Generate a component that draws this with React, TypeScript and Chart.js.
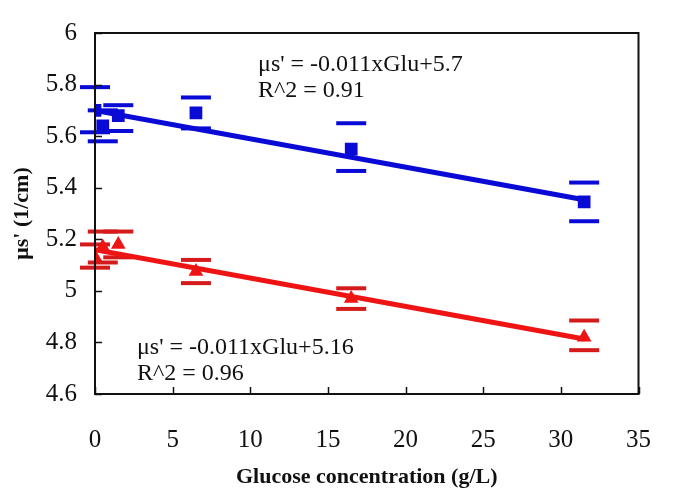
import React, { useEffect, useRef } from 'react';
import { Chart, registerables } from 'chart.js';

Chart.register(...registerables);

// ---- data ----
const glucose = [0, 0.5, 1.5, 6.5, 16.5, 31.5];

const blueMean = [5.7, 5.64, 5.68, 5.69, 5.55, 5.345];
const blueHigh = [5.79, 5.7, 5.72, 5.75, 5.65, 5.42];
const blueLow = [5.615, 5.58, 5.62, 5.63, 5.465, 5.27];

const redMean = [5.13, 5.17, 5.18, 5.075, 4.97, 4.82];
const redHigh = [5.18, 5.23, 5.23, 5.12, 5.01, 4.885];
const redLow = [5.09, 5.11, 5.13, 5.03, 4.93, 4.77];

const fitX = [0, 31.5];
const blueFit = [5.7, 5.3535];
const redFit = [5.16, 4.8135];

const xTicks = [0, 5, 10, 15, 20, 25, 30, 35];
const xTickLabels = ['0', '5', '10', '15', '20', '25', '30', '35'];
const yTicks = [4.6, 4.8, 5, 5.2, 5.4, 5.6, 5.8, 6];
const yTickLabels = ['4.6', '4.8', '5', '5.2', '5.4', '5.6', '5.8', '6'];

const blueEq = ["μs' = -0.011xGlu+5.7", 'R^2 = 0.91'];
const redEq = ["μs' = -0.011xGlu+5.16", 'R^2 = 0.96'];

const xTitle = 'Glucose concentration (g/L)';
const yTitle = "μs' (1/cm)";

const BLUE = '#0a0ad6';
const RED = '#ee1414';
const RED_CAP = '#d41a1a';
const SERIF = '"Liberation Serif", "Times New Roman", serif';

const decor = {
  id: 'decor',
  beforeDatasetsDraw(chart: any) {
    const { ctx, scales } = chart;
    const xs = scales.x;
    const ys = scales.y;
    const caps = (low: number[], high: number[], color: string) => {
      ctx.save();
      ctx.strokeStyle = color;
      ctx.lineWidth = 4;
      glucose.forEach((g, i) => {
        const px = xs.getPixelForValue(g);
        [low[i], high[i]].forEach((v) => {
          const py = ys.getPixelForValue(v);
          ctx.beginPath();
          ctx.moveTo(px - 15, py);
          ctx.lineTo(px + 15, py);
          ctx.stroke();
        });
      });
      ctx.restore();
    };
    caps(blueLow, blueHigh, BLUE);
    caps(redLow, redHigh, RED_CAP);
  },
  afterDraw(chart: any) {
    const { ctx, chartArea, scales } = chart;
    const { left, top, right, bottom } = chartArea;
    const xs = scales.x;
    const ys = scales.y;
    ctx.save();
    ctx.strokeStyle = '#111';
    ctx.lineWidth = 2;
    ctx.strokeRect(left, top, right - left, bottom - top);
    ctx.lineWidth = 1.5;
    xTicks.forEach((v) => {
      const px = Math.round(xs.getPixelForValue(v)) + 0.5;
      ctx.beginPath();
      ctx.moveTo(px, bottom);
      ctx.lineTo(px, bottom - 7);
      ctx.stroke();
    });
    yTicks.forEach((v) => {
      const py = Math.round(ys.getPixelForValue(v)) + 0.5;
      ctx.beginPath();
      ctx.moveTo(left, py);
      ctx.lineTo(left + 7, py);
      ctx.stroke();
    });
    ctx.fillStyle = '#111';
    ctx.font = `24px ${SERIF}`;
    ctx.textAlign = 'left';
    ctx.textBaseline = 'middle';
    const bx = xs.getPixelForValue(10.5);
    const by = ys.getPixelForValue(5.877);
    blueEq.forEach((t, i) => ctx.fillText(t, bx, by + i * 26));
    const rx = xs.getPixelForValue(2.7);
    const ry = ys.getPixelForValue(4.78);
    redEq.forEach((t, i) => ctx.fillText(t, rx, ry + i * 26));
    ctx.restore();
  },
};

export default function App() {
  const ref = useRef<HTMLCanvasElement | null>(null);

  useEffect(() => {
    document.body.style.margin = '0';
    const canvas = ref.current;
    if (!canvas) return;
    const chart = new Chart(canvas, {
      type: 'scatter',
      data: {
        datasets: [
          {
            data: glucose.map((g, i) => ({ x: g, y: blueMean[i] })),
            pointStyle: 'rect',
            pointRadius: 9,
            backgroundColor: BLUE,
            borderWidth: 0,
            showLine: false,
          },
          {
            data: glucose.map((g, i) => ({ x: g, y: redMean[i] })),
            pointStyle: 'triangle',
            pointRadius: 8.5,
            backgroundColor: RED,
            borderWidth: 0,
            showLine: false,
          },
          {
            data: fitX.map((g, i) => ({ x: g, y: blueFit[i] })),
            showLine: true,
            borderColor: BLUE,
            borderWidth: 5,
            pointRadius: 0,
          },
          {
            data: fitX.map((g, i) => ({ x: g, y: redFit[i] })),
            showLine: true,
            borderColor: RED,
            borderWidth: 5,
            pointRadius: 0,
          },
        ],
      },
      options: {
        animation: false,
        responsive: false,
        events: [],
        layout: { padding: { top: 19, right: 13, left: 0, bottom: 0 } },
        plugins: { legend: { display: false }, tooltip: { enabled: false } },
        scales: {
          x: {
            type: 'linear',
            min: 0,
            max: 35,
            afterBuildTicks: (s: any) => {
              s.ticks = xTicks.map((v) => ({ value: v }));
            },
            afterFit: (s: any) => {
              s.height = 104;
            },
            grid: { display: false, drawTicks: false },
            border: { display: false },
            ticks: {
              autoSkip: false,
              maxRotation: 0,
              padding: 31,
              color: '#111',
              font: { family: SERIF, size: 25 },
              callback: (v: any) => xTickLabels[xTicks.indexOf(Number(v))] ?? '',
            },
            title: {
              display: true,
              text: xTitle,
              color: '#111',
              font: { family: SERIF, size: 22, weight: 'bold' },
              padding: { top: 0, bottom: 7 },
            },
          },
          y: {
            type: 'linear',
            min: 4.6,
            max: 6,
            afterBuildTicks: (s: any) => {
              s.ticks = yTicks.map((v) => ({ value: v }));
            },
            afterFit: (s: any) => {
              s.width = 95;
            },
            grid: { display: false, drawTicks: false },
            border: { display: false },
            ticks: {
              autoSkip: false,
              padding: 18,
              color: '#111',
              font: { family: SERIF, size: 25 },
              callback: (v: any) => {
                const idx = yTicks.findIndex((t) => Math.abs(t - Number(v)) < 1e-6);
                return idx >= 0 ? yTickLabels[idx] : '';
              },
            },
            title: {
              display: true,
              text: yTitle,
              color: '#111',
              font: { family: SERIF, size: 22, weight: 'bold' },
              padding: { top: 9, bottom: 0 },
            },
          },
        },
      },
      plugins: [decor],
    });
    return () => chart.destroy();
  }, []);

  return (
    <div style={{ width: 682, height: 498, background: '#fff' }}>
      <canvas ref={ref} width={682} height={498} />
    </div>
  );
}
